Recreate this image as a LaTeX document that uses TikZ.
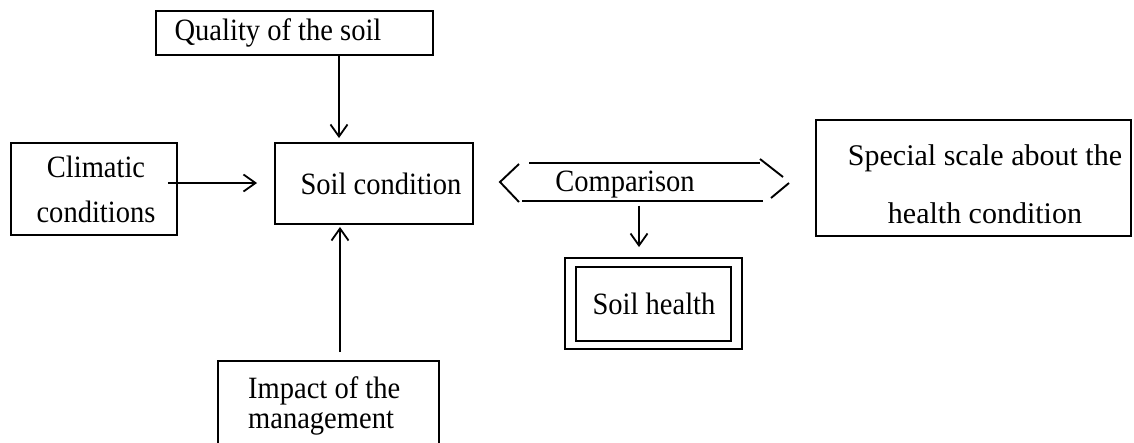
\documentclass[tikz,border=0pt]{standalone}
\usepackage{fontspec}
\setmainfont{Liberation Serif}[FakeStretch=0.92]
\newfontfamily\widefont{Liberation Serif}
\usetikzlibrary{arrows.meta,calc}
\begin{document}
\begin{tikzpicture}[x=1pt,y=-1pt,
  box/.style={draw, line width=1.9pt, rectangle, inner sep=0pt},
  txt/.style={font=\fontsize{31}{37}\selectfont, inner sep=0pt, anchor=base},
  arr/.style={line width=1.8pt, -{Straight Barb[length=12pt,width=17pt]}},
  ln/.style={line width=1.9pt}]
\useasboundingbox (0,0) rectangle (1134,442);
\fill[white] (0,0) rectangle (1134,442);

% boxes
\node[box, minimum width=277pt, minimum height=44pt] (quality) at (294.5,33) {};
\node[box, minimum width=166pt, minimum height=92pt] (clim) at (94,189) {};
\node[box, minimum width=198pt, minimum height=81pt] (sc) at (374,183.5) {};
\node[box, minimum width=315pt, minimum height=116pt] (scale) at (973.5,178) {};
\begin{scope}
\clip (0,0) rectangle (1134,442);
\node[box, minimum width=221pt, minimum height=100pt] (imp) at (328.5,411) {};
\end{scope}
\node[box, minimum width=177pt, minimum height=91pt] (shout) at (653.5,303.5) {};
\node[box, line width=2.6pt, minimum width=155pt, minimum height=74pt] (sh) at (653.5,304) {};

% texts
\node[txt] (tquality) at (278,40) {Quality of the soil};
\node[txt, font=\fontsize{31}{45}\selectfont, align=center] (tclim) at (96,222) {Climatic\\conditions};
\node[txt] (tsc) at (381,194) {Soil condition};
\node[txt] (cmp) at (625,191) {Comparison};
\node[txt, font=\widefont\fontsize{30}{58}\selectfont, align=center] (tscale) at (985,223) {Special scale about the\\health condition};
\node[txt] (tsh) at (654,314) {Soil health};
\node[txt, font=\fontsize{31}{30}\selectfont, align=left, anchor=base west] (timp) at (248,428) {Impact of the\\management};

% comparison shape
\draw[ln] (529,163) -- (760,163);
\draw[ln] (522,201) -- (763,201);
\draw[ln] (519,164) -- (500,182) -- (519,202);
\draw[ln] (760,159) -- (783,177);
\draw[ln] (771,198) -- (789,183);

% connectors
\coordinate (xq) at (339,0);
\coordinate (xi) at (340,0);
\coordinate (xc) at (639,0);
\draw[arr, shorten >=4pt] (quality.south -| xq) -- (sc.north -| xq);
\draw[arr] ($(clim.east)+(-10,-6)$) -- ($(sc.west)+(-17,-0.5)$);
\draw[arr, shorten >=2pt] ($(imp.north -| xi)+(0,-8)$) -- (sc.south -| xi);
\draw[arr, shorten >=10pt] ($(sc.north -| xc)+(0,63.5)$) -- (shout.north -| xc);
\end{tikzpicture}
\end{document}
